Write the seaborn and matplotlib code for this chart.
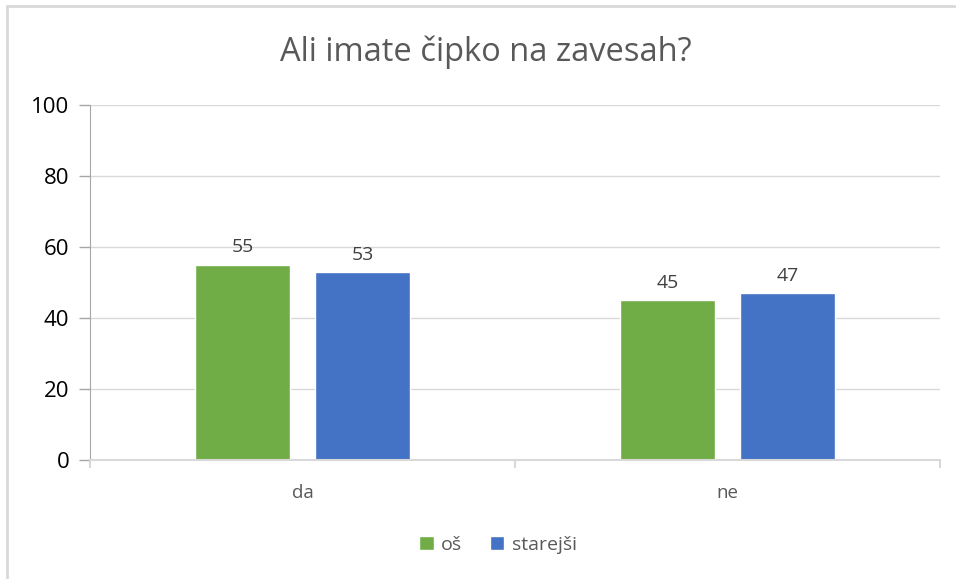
import pandas as pd
import matplotlib.pyplot as plt
import seaborn as sns
from matplotlib.lines import Line2D
from matplotlib.patches import Patch

# --- data ---
categories = ["da", "ne"]
series = ["oš", "starejši"]
vals_os = [55, 45]
vals_starejsi = [53, 47]
yticks = [0, 20, 40, 60, 80, 100]
title = "Ali imate čipko na zavesah?"

palette = {"oš": "#70AD47", "starejši": "#4472C4"}
text_col = "#595959"

df = pd.DataFrame({
    "kategorija": categories * 2,
    "skupina": [series[0]] * len(categories) + [series[1]] * len(categories),
    "vrednost": vals_os + vals_starejsi,
})

sns.set_style("white")
plt.rcParams["font.family"] = ["Open Sans", "DejaVu Sans"]

fig = plt.figure(figsize=(9.56, 5.79), dpi=100)
ax = fig.add_axes([90 / 956, 119 / 579, 850 / 956, 355 / 579])

sns.barplot(data=df, x="kategorija", y="vrednost", hue="skupina",
            order=categories, hue_order=series, palette=palette,
            width=0.565, gap=0.21, saturation=1, legend=False, ax=ax)

# data labels
for cont in ax.containers:
    ax.bar_label(cont, fmt="%d", padding=6, fontsize=14, color="#404040")

ax.set_ylim(0, 100)
ax.set_xlim(-0.5, len(categories) - 0.5)
ax.set_yticks(yticks)
ax.set_yticklabels([str(v) for v in yticks], fontsize=16, color="#000000")
ax.yaxis.grid(True, color="#D9D9D9", linewidth=1)
ax.set_axisbelow(True)
ax.tick_params(axis="y", length=8, color="#A6A6A6", width=1, pad=7, left=True)

ax.set_xticks(range(len(categories)))
ax.set_xticklabels(categories, fontsize=13.5, color=text_col)
ax.tick_params(axis="x", length=0, pad=17)
ax.set_xticks([i - 0.5 for i in range(len(categories) + 1)], minor=True)
ax.tick_params(axis="x", which="minor", length=6, color="#D9D9D9", width=1.5, bottom=True)

ax.set_xlabel("")
ax.set_ylabel("")
for s in ["top", "right"]:
    ax.spines[s].set_visible(False)
ax.spines["left"].set_color("#A6A6A6")
ax.spines["bottom"].set_color("#D9D9D9")
ax.spines["bottom"].set_linewidth(1.5)

fig.text(486 / 956, 1 - 52 / 579, title, ha="center", va="center", fontsize=23.5, color=text_col)

handles = [Patch(facecolor=palette[s], label=s) for s in series]
fig.legend(handles=handles, loc="center", bbox_to_anchor=(498 / 956, 1 - 545 / 579),
           ncol=2, frameon=False, fontsize=14, handlelength=0.75, handleheight=0.75,
           handletextpad=0.4, columnspacing=1.4, labelcolor=text_col)

# light frame (top and left edges)
fig.add_artist(Line2D([7 / 956, 1], [1 - 6 / 579, 1 - 6 / 579], transform=fig.transFigure,
                      color="#D9D9D9", linewidth=2))
fig.add_artist(Line2D([7 / 956, 7 / 956], [0, 1 - 6 / 579], transform=fig.transFigure,
                      color="#D9D9D9", linewidth=2))

fig.savefig("out.png", dpi=100)
